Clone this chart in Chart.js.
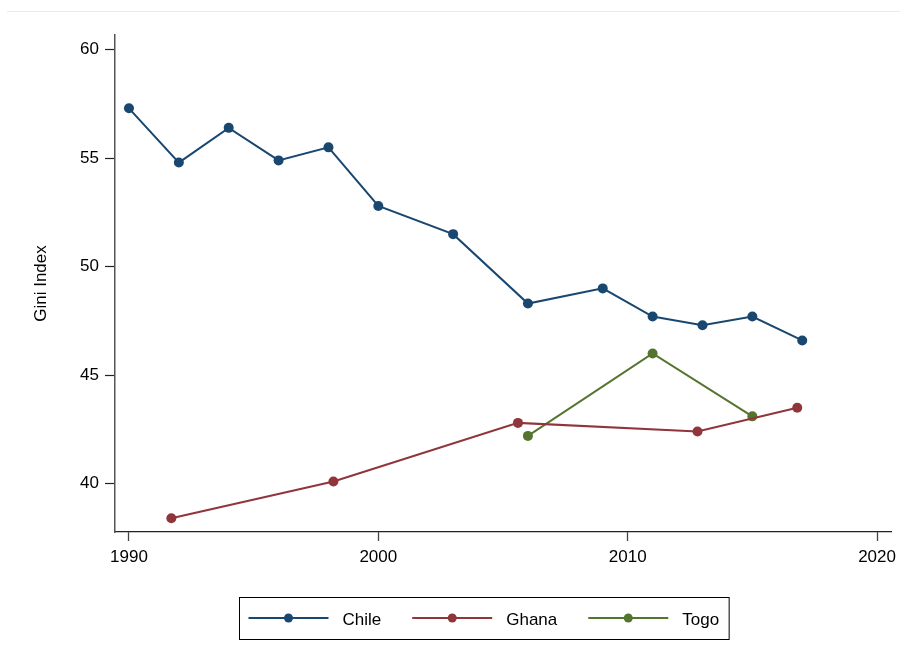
<!DOCTYPE html>
<html>
<head>
<meta charset="utf-8">
<script src="https://cdn.jsdelivr.net/npm/chart.js@4"></script>
<style>
  html, body { margin: 0; padding: 0; background: #fff; }
  .wrap { position: relative; width: 905px; height: 662px; }
  .rule { position: absolute; left: 7px; right: 5px; top: 11px; height: 1px; background: #e8ecef; }
</style>
</head>
<body>
<div class="wrap">
  <div class="rule"></div>
  <canvas id="gini" width="905" height="662"></canvas>
</div>
<script>
// Gini index by survey year
const chileYears = [1990, 1992, 1994, 1996, 1998, 2000, 2003, 2006, 2009, 2011, 2013, 2015, 2017];
const chileGini  = [57.3, 54.8, 56.4, 54.9, 55.5, 52.8, 51.5, 48.3, 49.0, 47.7, 47.3, 47.7, 46.6];

const ghanaYears = [1991.7, 1998.2, 2005.6, 2012.8, 2016.8];
const ghanaGini  = [38.4, 40.1, 42.8, 42.4, 43.5];

const togoYears = [2006, 2011, 2015];
const togoGini  = [42.2, 46.0, 43.1];

const xTicks = [1990, 2000, 2010, 2020];
const yTicks = [40, 45, 50, 55, 60];

const colours = { chile: '#1a476f', ghana: '#90353b', togo: '#55752f' };
const FONT = '"Liberation Sans", Arial, sans-serif';

const toPoints = (xs, ys) => xs.map((x, i) => ({ x: x, y: ys[i] }));

const series = (label, xs, ys, colour) => ({
  label: label,
  data: toPoints(xs, ys),
  showLine: true,
  borderColor: colour,
  backgroundColor: colour,
  borderWidth: 2,
  pointRadius: 5,
  pointHoverRadius: 5,
  pointBorderWidth: 0,
  tension: 0
});

// boxed legend with line + marker symbols, drawn below the axes
const boxLegend = {
  id: 'boxLegend',
  afterDraw(chart) {
    const ctx = chart.ctx;
    ctx.save();
    ctx.font = '17px ' + FONT;
    const items = chart.data.datasets.map(ds => ({ text: ds.label, colour: ds.borderColor, w: ctx.measureText(ds.label).width }));
    const padL = 9, padR = 10, symW = 80, gapText = 14, gapItem = 31;
    let total = padL + padR;
    items.forEach((it, i) => { total += symW + gapText + it.w + (i < items.length - 1 ? gapItem : 0); });
    const left = Math.round(483.5 - total / 2) + 0.5;
    const top = 597.5, height = 42, midY = 618;

    ctx.strokeStyle = '#000';
    ctx.lineWidth = 1;
    ctx.strokeRect(left, top, total, height);

    let x = left + padL;
    items.forEach(it => {
      ctx.strokeStyle = it.colour;
      ctx.lineWidth = 2;
      ctx.beginPath();
      ctx.moveTo(x, midY);
      ctx.lineTo(x + symW, midY);
      ctx.stroke();
      ctx.fillStyle = it.colour;
      ctx.beginPath();
      ctx.arc(x + symW / 2, midY, 4.5, 0, Math.PI * 2);
      ctx.fill();
      ctx.fillStyle = '#000';
      ctx.textBaseline = 'alphabetic';
      ctx.fillText(it.text, x + symW + gapText, 625);
      x += symW + gapText + it.w + gapItem;
    });
    ctx.restore();
  }
};

const ctx = document.getElementById('gini').getContext('2d');
new Chart(ctx, {
  type: 'scatter',
  data: {
    datasets: [
      series('Chile', chileYears, chileGini, colours.chile),
      series('Ghana', ghanaYears, ghanaGini, colours.ghana),
      series('Togo', togoYears, togoGini, colours.togo)
    ]
  },
  options: {
    responsive: false,
    animation: false,
    layout: { padding: { top: 35, left: 0, right: 14, bottom: 80 } },
    plugins: {
      legend: { display: false },
      tooltip: { enabled: false }
    },
    scales: {
      x: {
        type: 'linear',
        min: 1989.44,
        max: 2020.56,
        afterFit: (scale) => { scale.height = 50; },
        afterBuildTicks: (scale) => { scale.ticks = xTicks.map(v => ({ value: v })); },
        grid: { drawOnChartArea: false, drawTicks: true, tickLength: 9, color: '#444', tickWidth: 1.3 },
        border: { display: true, color: '#222', width: 1.2 },
        ticks: { color: '#000', font: { family: FONT, size: 17 }, padding: 6, maxRotation: 0, callback: v => String(v) }
      },
      y: {
        type: 'linear',
        min: 37.77,
        max: 60.68,
        afterFit: (scale) => { scale.width = 115; },
        afterBuildTicks: (scale) => { scale.ticks = yTicks.map(v => ({ value: v })); },
        grid: { drawOnChartArea: false, drawTicks: true, tickLength: 10, color: '#222', tickWidth: 1.2 },
        border: { display: true, color: '#555', width: 1.5 },
        ticks: { color: '#000', font: { family: FONT, size: 17 }, padding: 6, callback: v => String(v) },
        title: { display: true, text: 'Gini Index', color: '#000', font: { family: FONT, size: 17 }, padding: { top: 31, bottom: 0 } }
      }
    }
  },
  plugins: [boxLegend]
});
</script>
</body>
</html>
